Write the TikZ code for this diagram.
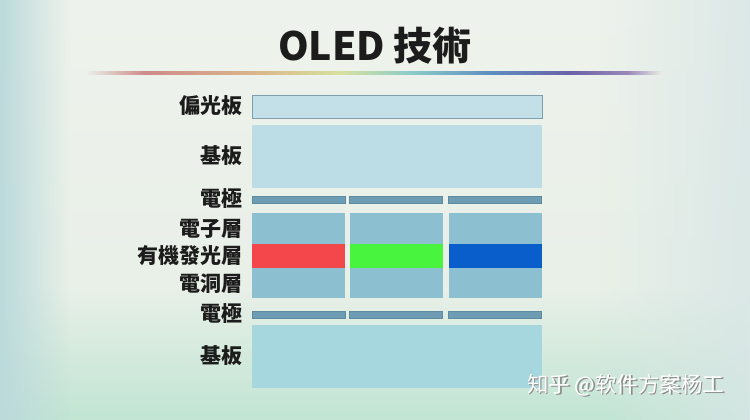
\documentclass[tikz,border=0pt]{standalone}
\usepackage{fontspec}
\newfontfamily\tcfont{Noto Sans CJK TC}
\newfontfamily\scfont{Noto Sans CJK SC}
\usetikzlibrary{fadings}
\definecolor{bgA}{HTML}{E6EFE6}
\definecolor{bgB}{HTML}{EEF2EC}
\definecolor{bgC}{HTML}{D8E6E6}
\definecolor{bgBot}{HTML}{C2E5D4}
\definecolor{bgLeft}{HTML}{BCDADB}
\definecolor{polFill}{HTML}{C3DFE8}
\definecolor{polDraw}{HTML}{7E9FAE}
\definecolor{subTop}{HTML}{BCDDE6}
\definecolor{subBot}{HTML}{A6D6DE}
\definecolor{elecFill}{HTML}{6E9DB3}
\definecolor{elecDraw}{HTML}{5C8BA2}
\definecolor{colFill}{HTML}{8CBFD0}
\definecolor{oRed}{HTML}{F4474B}
\definecolor{oGreen}{HTML}{48F43E}
\definecolor{oBlue}{HTML}{0A5ECC}
\definecolor{txt}{HTML}{1C1C1C}
\definecolor{rb0}{HTML}{E8EEE6}
\definecolor{rb1}{HTML}{CF8A8A}
\definecolor{rb2}{HTML}{D9B98A}
\definecolor{rb3}{HTML}{D8E0A0}
\definecolor{rb4}{HTML}{8CCDC8}
\definecolor{rb5}{HTML}{5E8EC0}
\definecolor{rb6}{HTML}{6A62A8}
\definecolor{rb7}{HTML}{9A88B8}
\pgfdeclarehorizontalshading{rainbow}{100bp}{color(0bp)=(rb0); color(25bp)=(rb0); color(30bp)=(rb1); color(40bp)=(rb2); color(47bp)=(rb3); color(53bp)=(rb4); color(60bp)=(rb5); color(67bp)=(rb6); color(72bp)=(rb7); color(75bp)=(rb0); color(100bp)=(rb0)}
\tikzset{
  lbl/.style={anchor=east, inner sep=0pt, text=txt, font=\tcfont\bfseries\fontsize{21}{21}\selectfont},
  layer/.style={rectangle, inner sep=0pt, minimum width=290pt},
  cell/.style={rectangle, inner sep=0pt, minimum width=93pt},
  elec/.style={cell, fill=elecFill, draw=elecDraw, line width=0.6pt, minimum height=7pt},
  colblock/.style={cell, fill=colFill, minimum height=85pt},
  stripe/.style={cell, minimum height=24pt},
  wmtext/.style={anchor=west, inner sep=0pt, font=\scfont\fontsize{21.5}{21.5}\selectfont},
}
\begin{document}
\begin{tikzpicture}[x=1pt,y=-1pt]
\useasboundingbox (0,0) rectangle (750,420);
% background
\shade[top color=bgB, bottom color=bgA] (0,0) rectangle (750,420);
\fill[bgBot, path fading=north] (0,290) rectangle (750,420);
\fill[bgLeft, path fading=east] (0,0) rectangle (70,420);
\fill[bgC, path fading=west, opacity=0.8] (600,0) rectangle (750,420);
% title
\node[inner sep=0pt, text=txt, font=\tcfont\bfseries\fontsize{39}{39}\selectfont] (title) at (375,46) {OLED 技術};
\shade[shading=rainbow] (88,72) rectangle (662,74.5);
% layers
\node[layer, fill=polFill, draw=polDraw, line width=0.8pt, minimum height=23pt] (pol) at (397,106.5) {};
\node[layer, fill=subTop, minimum height=63pt] (sub1) at (397,156.5) {};
\foreach \i/\cx in {1/298.5, 2/396, 3/495}{
  \node[elec] (et\i) at (\cx,199.5) {};
  \node[colblock] (col\i) at (\cx,255.5) {};
  \node[elec] (eb\i) at (\cx,314.5) {};
}
\node[stripe, fill=oRed] (red) at (298.5,256) {};
\node[stripe, fill=oGreen] (green) at (396,256) {};
\node[stripe, fill=oBlue] (blue) at (495,256) {};
\node[layer, fill=subBot, minimum height=63pt] (sub2) at (397,356.5) {};
% labels
\node[lbl] (l1) at (243,106) {偏光板};
\node[lbl] (l2) at (243,156) {基板};
\node[lbl] (l3) at (243,199) {電極};
\node[lbl] (l4) at (243,229) {電子層};
\node[lbl] (l5) at (243,256) {有機發光層};
\node[lbl] (l6) at (243,284) {電洞層};
\node[lbl] (l7) at (243,314) {電極};
\node[lbl] (l8) at (243,356) {基板};
% watermark
\node[wmtext, text=black!45] (wms) at (528.5,386.5) {知乎 @软件方案杨工};
\node[wmtext, text=white] (wm) at (527,385) {知乎 @软件方案杨工};
\end{tikzpicture}
\end{document}
